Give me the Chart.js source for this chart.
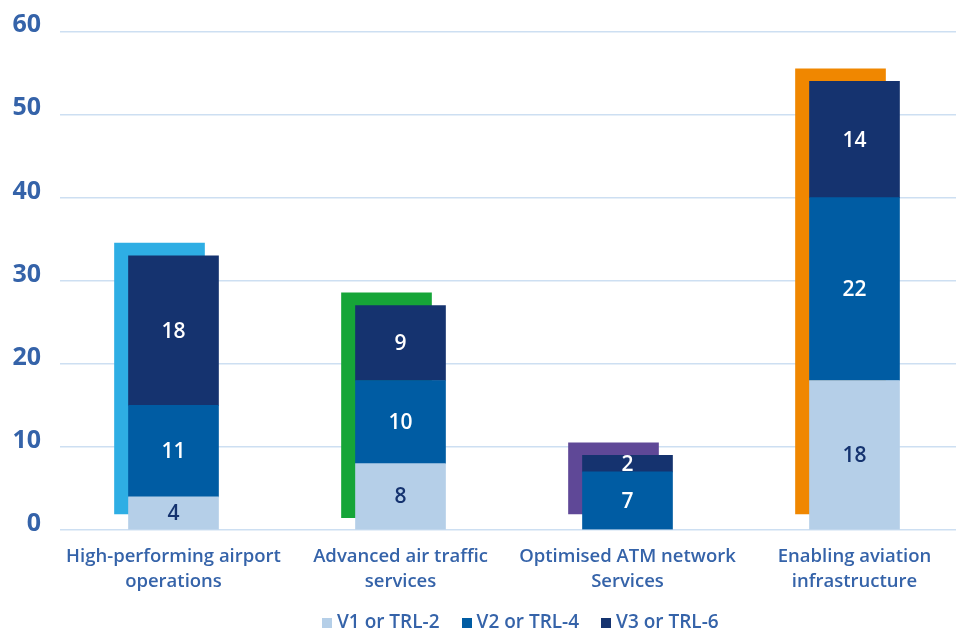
<!DOCTYPE html>
<html lang="en">
<head>
    <meta charset="UTF-8">
    <title>Solutions by maturity level</title>
    <script src="https://cdn.jsdelivr.net/npm/chart.js@4.4.1/dist/chart.umd.min.js"></script>
    <style>
        html, body {
            margin: 0;
            padding: 0;
            background: #ffffff;
            overflow: hidden;
        }
        .chart-wrapper {
            position: relative;
            width: 968px;
            height: 628px;
        }
        .legend {
            position: absolute;
            left: 322px;
            top: 609px;
            display: flex;
            gap: 22px;
            font-family: 'Open Sans', 'DejaVu Sans', sans-serif;
            font-weight: 600;
            font-size: 19px;
            line-height: 24px;
            color: #3563a9;
        }
        .legend-item {
            display: flex;
            align-items: center;
            gap: 5px;
        }
        .legend-color {
            width: 10px;
            height: 11px;
            margin-top: 4px;
        }
    </style>
</head>
<body>
    <div class="chart-wrapper">
        <canvas id="bar-chart" width="968" height="628"></canvas>
        <div class="legend" id="legend"></div>
    </div>

    <script>
        // Data
        const categories = [
            ['High-performing airport', 'operations'],
            ['Advanced air traffic', 'services'],
            ['Optimised ATM network', 'Services'],
            ['Enabling aviation', 'infrastructure']
        ];
        const seriesNames = ['V1 or TRL-2', 'V2 or TRL-4', 'V3 or TRL-6'];
        const v1Values = [4, 8, 0, 18];
        const v2Values = [11, 10, 7, 22];
        const v3Values = [18, 9, 2, 14];
        // decorative coloured block behind each bar (from, to)
        const backdropRanges = [[1.95, 34.55], [1.5, 28.55], [1.95, 10.5], [1.95, 55.5]];
        const yTicks = [0, 10, 20, 30, 40, 50, 60];

        const seriesColors = ['#b5cfe8', '#005ca3', '#15336f'];
        const labelColors = ['#15336f', '#ffffff', '#ffffff'];
        const backdropColors = ['#2eaee4', '#16a538', '#5f4897', '#f08700'];
        const textBlue = '#3563a9';
        const FONT = "'Open Sans', 'DejaVu Sans', sans-serif";

        // Shift the backdrop blocks a little to the left
        const shiftBackdrop = {
            id: 'shiftBackdrop',
            beforeDatasetDraw(chart, args) {
                if (args.index === 3) {
                    chart.ctx.save();
                    chart.ctx.translate(-14, 0);
                }
            },
            afterDatasetDraw(chart, args) {
                if (args.index === 3) chart.ctx.restore();
            }
        };

        // Values written inside the bar segments
        const valueLabels = {
            id: 'valueLabels',
            afterDatasetsDraw(chart) {
                const ctx = chart.ctx;
                ctx.save();
                ctx.font = '600 21px ' + FONT;
                ctx.textAlign = 'center';
                ctx.textBaseline = 'middle';
                for (let i = 0; i < 3; i++) {
                    const meta = chart.getDatasetMeta(i);
                    meta.data.forEach((bar, j) => {
                        const v = chart.data.datasets[i].data[j];
                        if (!v) return;
                        ctx.fillStyle = labelColors[i];
                        ctx.fillText(v, bar.x, (bar.y + bar.base) / 2 + 1);
                    });
                }
                ctx.restore();
            }
        };

        const datasets = [v1Values, v2Values, v3Values].map((vals, i) => ({
            label: seriesNames[i],
            data: vals,
            backgroundColor: seriesColors[i],
            barThickness: 90,
            grouped: false,
            xAxisID: 'x',
            order: 1
        }));
        datasets.push({
            label: 'backdrop',
            data: backdropRanges,
            backgroundColor: backdropColors,
            barThickness: 90,
            grouped: false,
            xAxisID: 'x2',
            order: 10
        });

        new Chart(document.getElementById('bar-chart'), {
            type: 'bar',
            data: { labels: categories, datasets: datasets },
            options: {
                responsive: false,
                animation: false,
                layout: { padding: { top: 18, right: 0, bottom: 28, left: 0 } },
                plugins: {
                    tooltip: { enabled: false },
                    legend: { display: false }
                },
                scales: {
                    x: {
                        stacked: true,
                        grid: { display: false },
                        border: { display: false },
                        ticks: {
                            color: textBlue,
                            padding: 6,
                            font: { family: FONT, size: 18.5, weight: '600', lineHeight: 1.35 }
                        }
                    },
                    x2: {
                        type: 'category',
                        display: false,
                        offset: true
                    },
                    y: {
                        stacked: true,
                        min: 0,
                        max: 60,
                        afterFit(scale) { scale.width = 60; },
                        afterBuildTicks(scale) { scale.ticks = yTicks.map(v => ({ value: v })); },
                        border: { display: false },
                        grid: { color: '#cddff2', lineWidth: 1.6, drawTicks: false },
                        ticks: {
                            color: textBlue,
                            padding: 19,
                            // empty second line lifts the number a little above its grid line
                            callback: v => [String(v), ''],
                            font: { family: FONT, size: 25, weight: '700', lineHeight: 0.5 }
                        }
                    }
                }
            },
            plugins: [shiftBackdrop, valueLabels]
        });

        // Legend built as HTML
        const legend = document.getElementById('legend');
        seriesNames.forEach((name, i) => {
            const item = document.createElement('div');
            item.className = 'legend-item';
            const box = document.createElement('div');
            box.className = 'legend-color';
            box.style.backgroundColor = seriesColors[i];
            const text = document.createElement('span');
            text.textContent = name;
            item.appendChild(box);
            item.appendChild(text);
            legend.appendChild(item);
        });
    </script>
</body>
</html>
